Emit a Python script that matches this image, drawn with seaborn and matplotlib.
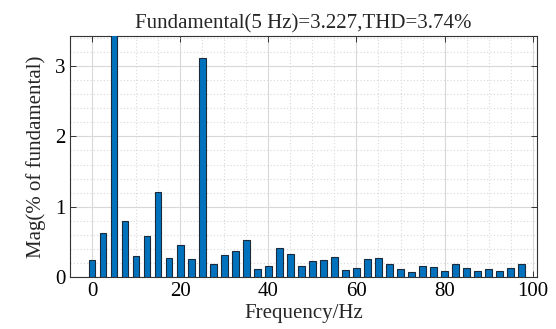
import matplotlib
matplotlib.use("Agg")
import matplotlib.pyplot as plt
import seaborn as sns
import numpy as np
from matplotlib.ticker import MultipleLocator

freq = [0, 2.5, 5, 7.5, 10, 12.5, 15, 17.5, 20, 22.5, 25, 27.5, 30, 32.5, 35, 37.5,
        40, 42.5, 45, 47.5, 50, 52.5, 55, 57.5, 60, 62.5, 65, 67.5, 70, 72.5, 75,
        77.5, 80, 82.5, 85, 87.5, 90, 92.5, 95, 97.5]
mag = [0.24, 0.62, 100.0, 0.80, 0.30, 0.58, 1.21, 0.27, 0.45, 0.26, 3.12, 0.19,
       0.32, 0.37, 0.52, 0.12, 0.16, 0.41, 0.33, 0.16, 0.23, 0.24, 0.28, 0.10,
       0.13, 0.25, 0.27, 0.19, 0.11, 0.07, 0.15, 0.14, 0.09, 0.19, 0.13, 0.08,
       0.12, 0.09, 0.13, 0.18]
title = "Fundamental(5 Hz)=3.227,THD=3.74%"
xlabel = "Frequency/Hz"
ylabel = "Mag(% of fundamental)"

sns.set_style("white")
plt.rcParams['font.family'] = ['Liberation Serif', 'DejaVu Serif']
plt.rcParams['mathtext.fontset'] = 'stix'

fig = plt.figure(figsize=(5.56, 3.29), dpi=100)
ax = fig.add_axes([0.126, 0.158, 0.840, 0.733])

sns.barplot(x=freq, y=mag, native_scale=True, width=0.6, color="#0072BD",
            saturation=1, edgecolor="#1a2a3a", linewidth=0.8, ax=ax, zorder=3)

ax.set_xlim(-5, 101)
ax.set_ylim(0, 3.43)
ax.xaxis.set_major_locator(MultipleLocator(20))
ax.xaxis.set_minor_locator(MultipleLocator(5))
ax.yaxis.set_major_locator(MultipleLocator(1))
ax.yaxis.set_minor_locator(MultipleLocator(0.2))
ax.grid(True, which='major', color='#d8d8d8', linewidth=0.8, linestyle='-', zorder=0)
ax.grid(True, which='minor', color='#d8d8d8', linewidth=0.8, linestyle=(0, (1, 2)), zorder=0)
ax.set_axisbelow(True)
for s in ax.spines.values():
    s.set_color('#333333')
    s.set_linewidth(0.8)
    s.set_visible(True)
ax.tick_params(which='major', direction='in', length=4, width=0.7, colors='#333333',
               labelcolor='black', labelsize=15, top=True, right=True, bottom=True, left=True)
ax.tick_params(which='minor', length=0, top=False, right=False, bottom=False, left=False)
ax.set_title(title, fontsize=15, pad=5)
ax.set_xlabel(xlabel, fontsize=15, labelpad=2)
ax.set_ylabel(ylabel, fontsize=15, labelpad=6)

fig.savefig("out.png", dpi=100)
